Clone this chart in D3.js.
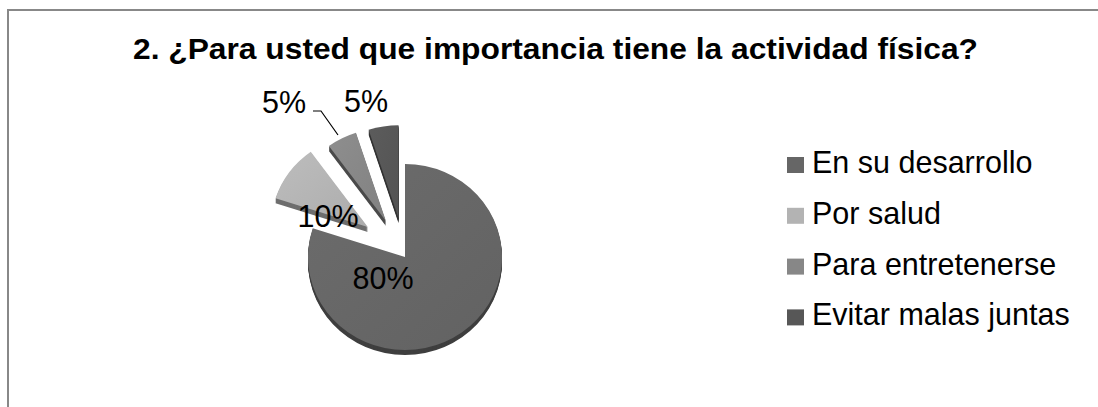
<!DOCTYPE html>
<html>
<head>
<meta charset="utf-8">
<script src="https://cdn.jsdelivr.net/npm/d3@7"></script>
<style>
  html, body { margin: 0; padding: 0; background: #fff; }
  svg { display: block; }
  text { font-family: "Liberation Sans", Arial, sans-serif; }
</style>
</head>
<body>
<script>
// Chart data
const title = "2. ¿Para usted que importancia tiene la actividad física?";
const categories = ["En su desarrollo", "Por salud", "Para entretenerse", "Evitar malas juntas"];
const values = [80, 10, 5, 5];
const percentLabels = ["80%", "10%", "5%", "5%"];

// Styling
const topColors  = ["#666666", "#b3b3b3", "#878787", "#575757"];
const sideColors = ["#3f3f3f", "#6e6e6e", "#4a4a4a", "#333333"];

const W = 1098, H = 407;
const svg = d3.select("body").append("svg").attr("width", W).attr("height", H);

// Frame
svg.append("rect")
  .attr("x", 8).attr("y", 10)
  .attr("width", W).attr("height", H)
  .attr("fill", "none").attr("stroke", "#888").attr("stroke-width", 2);

// Title
svg.append("text")
  .attr("x", 133).attr("y", 59)
  .attr("textLength", 845).attr("lengthAdjust", "spacingAndGlyphs")
  .attr("font-size", 29.5).attr("font-weight", "bold").attr("fill", "#000")
  .text(title);

// Pie geometry: circle of radius r, squashed vertically for the tilt
const cx = 405, cy = 257, r = 97, ry = 93, depth = 5;
const sy = ry / r;
const explode = [0, 46, 42, 41];

const pie = d3.pie().sort(null).startAngle(0).endAngle(2 * Math.PI);
const arcs = pie(values);
const arc = d3.arc().innerRadius(0).outerRadius(r);

const defs = svg.append("defs");
topColors.forEach((c, i) => {
  const g = defs.append("linearGradient").attr("id", "shade" + i)
    .attr("x1", "0%").attr("y1", "0%").attr("x2", "100%").attr("y2", "100%");
  g.append("stop").attr("offset", "0%").attr("stop-color", d3.color(c).brighter(0.15));
  g.append("stop").attr("offset", "100%").attr("stop-color", d3.color(c).darker(0.12));
});

const pieG = svg.append("g").attr("transform", `translate(${cx},${cy})`);

arcs.forEach((a, i) => {
  const mid = (a.startAngle + a.endAngle) / 2;
  const ox = Math.sin(mid) * explode[i];
  const oy = -Math.cos(mid) * explode[i] * sy - (i === 1 ? 4 : 0);
  const sg = pieG.append("g").attr("transform", `translate(${ox},${oy})`);
  // extruded side
  for (let k = depth; k >= 1; k--) {
    sg.append("path")
      .attr("d", arc(a))
      .attr("transform", `translate(0,${k}) scale(1,${sy})`)
      .attr("fill", sideColors[i]);
  }
  // top face
  sg.append("path")
    .attr("d", arc(a))
    .attr("transform", `scale(1,${sy})`)
    .attr("fill", `url(#shade${i})`);
});

// Percent labels
const labelPos = [[383, 289], [328, 227], [284, 113], [366, 112]];
percentLabels.forEach((t, i) => {
  svg.append("text")
    .attr("x", labelPos[i][0]).attr("y", labelPos[i][1])
    .attr("text-anchor", "middle")
    .attr("font-size", 30.5).attr("fill", "#000")
    .text(t);
});

// Leader line for the third slice label
svg.append("path")
  .attr("d", d3.line()([[313, 111], [321, 111], [338, 135]]))
  .attr("fill", "none").attr("stroke", "#000").attr("stroke-width", 1.2);

// Legend
const legend = svg.append("g");
categories.forEach((c, i) => {
  const y = 173 + i * 50.8;
  legend.append("rect")
    .attr("x", 787).attr("y", y - 16).attr("width", 17).attr("height", 16)
    .attr("fill", topColors[i]);
  legend.append("text")
    .attr("x", 812).attr("y", y)
    .attr("font-size", 30.5).attr("fill", "#000")
    .text(c);
});
</script>
</body>
</html>
